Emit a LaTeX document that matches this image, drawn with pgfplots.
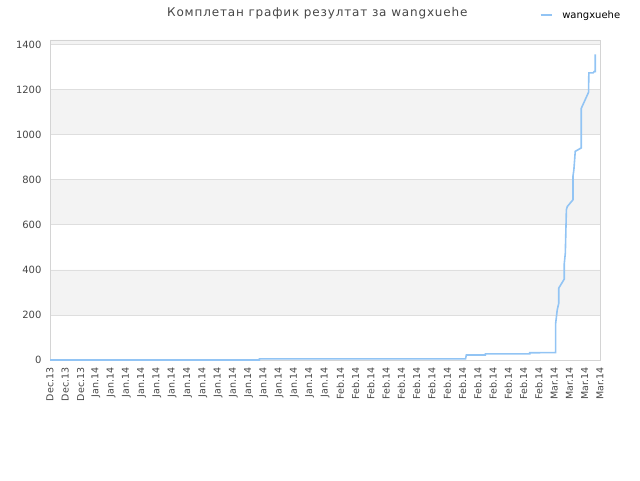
\documentclass[border=0pt]{standalone}
\usepackage{fontspec}
\setmainfont{DejaVu Sans}
\newfontfamily\titlefont[LetterSpace=7]{DejaVu Sans}
\usepackage{pgfplots}
\pgfplotsset{compat=1.18}

\definecolor{linecol}{RGB}{146,196,244}
\definecolor{bandcol}{RGB}{243,243,243}
\definecolor{gridcol}{RGB}{222,222,222}
\definecolor{framecol}{RGB}{212,212,212}
\definecolor{textcol}{RGB}{70,70,70}

\begin{document}
\begin{tikzpicture}
\begin{axis}[
  set layers,
  at={(50pt,120pt)}, anchor=south west,
  scale only axis, width=550pt, height=320pt,
  xmin=0, xmax=36, ymin=0, ymax=1420,
  axis line style={framecol},
  major tick length=0pt,
  ytick={0,200,...,1400},
  ymajorgrids, grid style={gridcol, line width=0.6pt},
  xtick={0,...,36},
  xticklabels={Dec.13,Dec.13,Dec.13,
    Jan.14,Jan.14,Jan.14,Jan.14,Jan.14,Jan.14,Jan.14,Jan.14,
    Jan.14,Jan.14,Jan.14,Jan.14,Jan.14,Jan.14,Jan.14,Jan.14,
    Feb.14,Feb.14,Feb.14,Feb.14,Feb.14,Feb.14,Feb.14,
    Feb.14,Feb.14,Feb.14,Feb.14,Feb.14,Feb.14,Feb.14,
    Mar.14,Mar.14,Mar.14,Mar.14},
  xticklabel style={rotate=90, anchor=east, font=\fontsize{9.5}{10}\selectfont, text=textcol, xshift=-4pt},
  yticklabel style={font=\fontsize{10}{10}\selectfont, text=textcol, xshift=-5pt},
  /pgf/number format/assume math mode=true,
  /pgf/number format/set thousands separator={},
  clip=false,
  legend style={draw=none, fill=none, at={(0.89,1.078)}, anchor=west,
    font=\fontsize{10}{10}\selectfont, text=black, inner sep=0pt,
    legend cell align=left},
  legend image code/.code={\draw[#1] (0pt,0pt) -- (11pt,0pt);},
  legend style={nodes={inner sep=0pt}, /tikz/every even column/.append style={column sep=0pt}},
]
% alternating bands
\addplot[draw=none, fill=bandcol, on layer=axis background, forget plot]
  coordinates {(0,200) (36,200) (36,400) (0,400) (0,200)};
\addplot[draw=none, fill=bandcol, on layer=axis background, forget plot]
  coordinates {(0,600) (36,600) (36,800) (0,800) (0,600)};
\addplot[draw=none, fill=bandcol, on layer=axis background, forget plot]
  coordinates {(0,1000) (36,1000) (36,1200) (0,1200) (0,1000)};
\addplot[draw=none, fill=bandcol, on layer=axis background, forget plot]
  coordinates {(0,1400) (36,1400) (36,1420) (0,1420) (0,1400)};

\addplot[linecol, line width=1.6pt] coordinates {
  (0,0) (13.7,0) (13.7,5) (27.2,5) (27.25,22) (28.5,22) (28.5,27)
  (31.4,27) (31.4,32) (33.1,33) (33.1,164) (33.2,222) (33.3,252)
  (33.3,319) (33.66,359) (33.66,427) (33.73,474) (33.8,667) (33.86,681)
  (34.23,711) (34.23,815) (34.29,844) (34.38,926) (34.77,941)
  (34.77,1116) (35.25,1188) (35.27,1274) (35.55,1274) (35.62,1280)
  (35.69,1280) (35.69,1356)
};
\addlegendentry{\hspace{10pt}wangxuehe}

\node[font=\titlefont\fontsize{12}{12}\selectfont, text=textcol] at (axis description cs:0.486,1.084)
  {Комплетан график резултат за wangxuehe};
\end{axis}
\pgfresetboundingbox
\useasboundingbox (0pt,0pt) rectangle (640pt,480pt);
\end{tikzpicture}
\end{document}
